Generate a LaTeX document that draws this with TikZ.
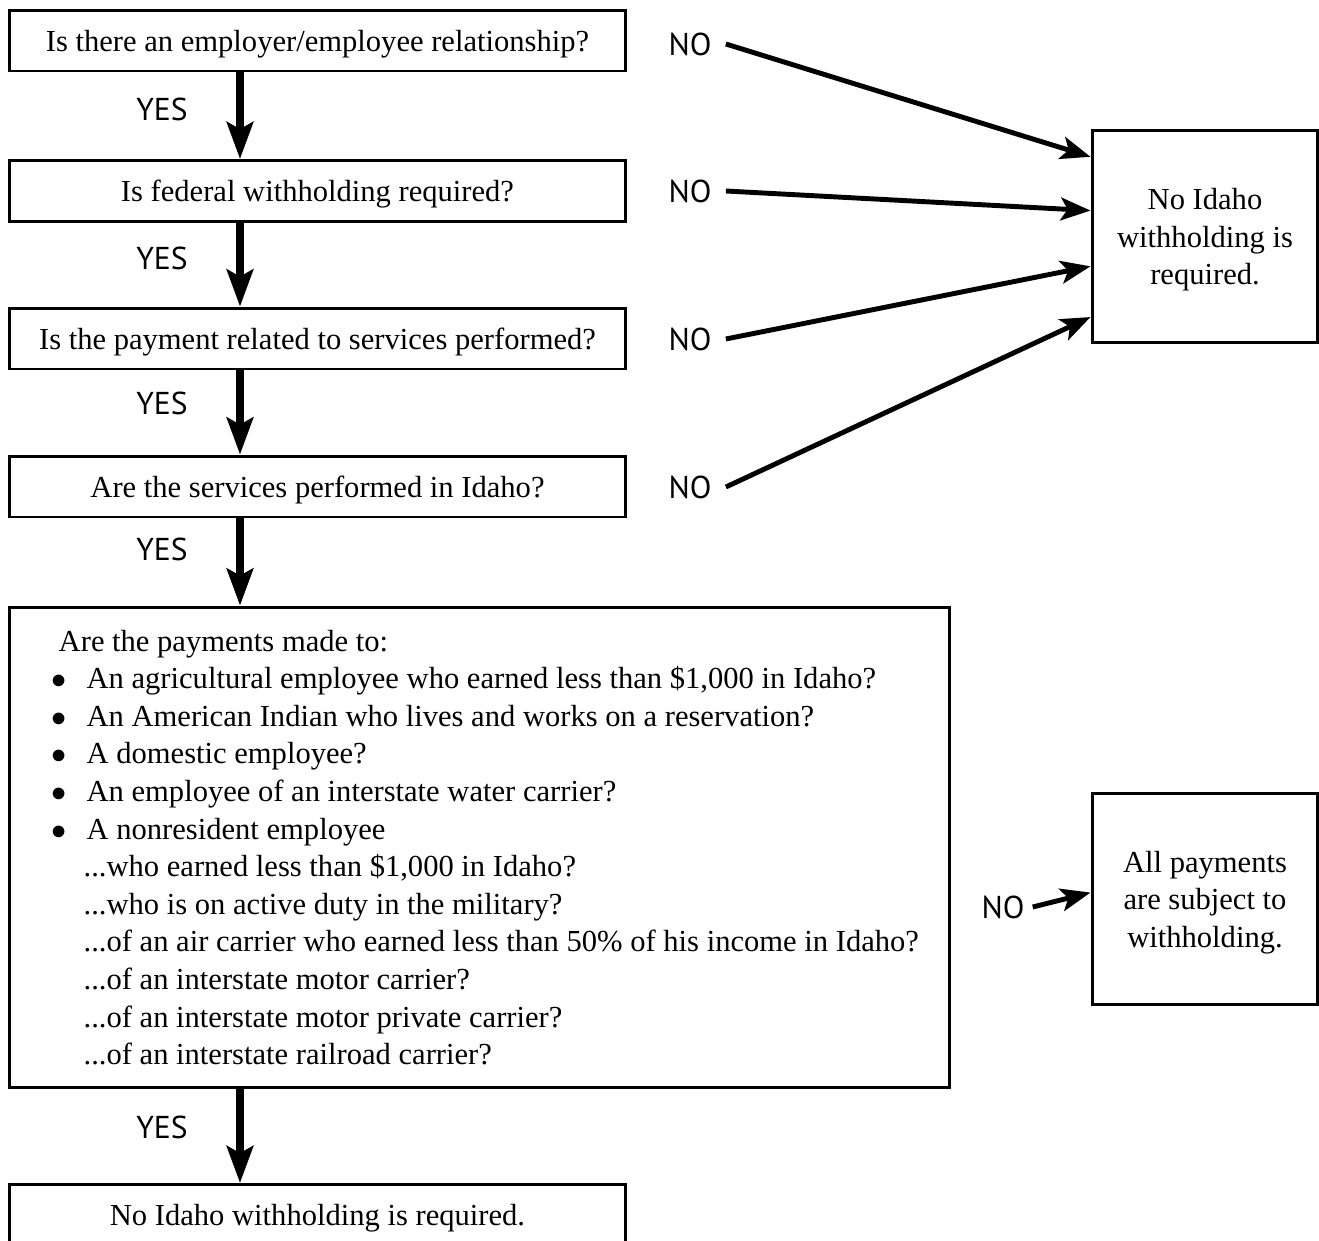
\documentclass[tikz,border=0pt]{standalone}
\usepackage{fontspec}
\setmainfont{Liberation Serif}
\newfontfamily\answerfont{PT Sans}
\usetikzlibrary{arrows.meta,calc}
\newlength{\pxl}\setlength{\pxl}{0.5669pt}
\newcommand{\itemdot}{\hspace*{44\pxl}\makebox[35\pxl][l]{$\bullet$}}
\newcommand{\itemdots}{\hspace*{76\pxl}...}

\begin{document}
\begin{tikzpicture}[x=0.02cm,y=-0.02cm,
  every node/.style={font=\fontsize{17.4}{21.4}\selectfont},
  box/.style={draw,line width=1.7pt,rectangle,minimum height=1.22cm,inner sep=0pt,text depth=0pt},
  qbox/.style={box,minimum width=12.34cm},
  endbox/.style={box,minimum width=4.52cm,minimum height=4.26cm,align=center},
  answer/.style={font=\answerfont\fontsize{18}{21.5}\selectfont,inner xsep=8pt},
  yesarrow/.style={line width=4pt,-{Stealth[length=21pt,width=15pt,inset=4pt]}},
  noarrow/.style={line width=2.8pt,-{Stealth[length=17pt,width=13pt,inset=4pt]}}]
\useasboundingbox (0,0) rectangle (1319,1241);

\node[qbox] (q1) at (317.5,40.5) {Is there an employer/employee relationship?};
\node[qbox] (q2) at (317.5,191) {Is federal withholding required?};
\node[qbox] (q3) at (317.5,338.5) {Is the payment related to services performed?};
\node[qbox] (q4) at (317.5,486.5) {Are the services performed in Idaho?};
\node[box,minimum width=18.82cm,minimum height=9.62cm] (pay) at (479.5,847.5) {};
\node[anchor=west,align=left,inner sep=0pt] (paylines) at (pay.west) {%
\hspace*{51\pxl}Are the payments made to:\\
\itemdot An agricultural employee who earned less than \$1,000 in Idaho?\\
\itemdot An American Indian who lives and works on a reservation?\\
\itemdot A domestic employee?\\
\itemdot An employee of an interstate water carrier?\\
\itemdot A nonresident employee\\
\itemdots who earned less than \$1,000 in Idaho?\\
\itemdots who is on active duty in the military?\\
\itemdots of an air carrier who earned less than 50\% of his income in Idaho?\\
\itemdots of an interstate motor carrier?\\
\itemdots of an interstate motor private carrier?\\
\itemdots of an interstate railroad carrier?};
\node[qbox] (last) at (317.5,1215) {No Idaho withholding is required.};

\node[endbox] (nope) at (1205,236.5) {No Idaho\\withholding is\\required.};
\node[endbox,minimum height=4.24cm] (allpay) at (1205,899) {All payments\\are subject to\\withholding.};

\foreach \y [count=\i] in {109,258,403,549,1127}
  \node[answer] (yes\i) at (162,\y) {YES};
\foreach \y [count=\i] in {44,191,339,487}
  \node[answer] (no\i) at (690,\y) {NO};
\node[answer,inner xsep=4.5pt] (no5) at (1003,907) {NO};

\coordinate (spine) at (240,0);
\foreach \a/\b in {q1/q2,q2/q3,q3/q4,q4/pay,pay/last}
  \draw[yesarrow] (\a.south -| spine) -- (\b.north -| spine);

\foreach \f [count=\i] in {0.131,0.38,0.638,0.873}
  \draw[noarrow] (no\i.east) -- ($(nope.north west)!\f!(nope.south west)$);
\draw[noarrow] (no5.east) -- ($(allpay.north west)!0.47!(allpay.south west)$);
\end{tikzpicture}
\end{document}
